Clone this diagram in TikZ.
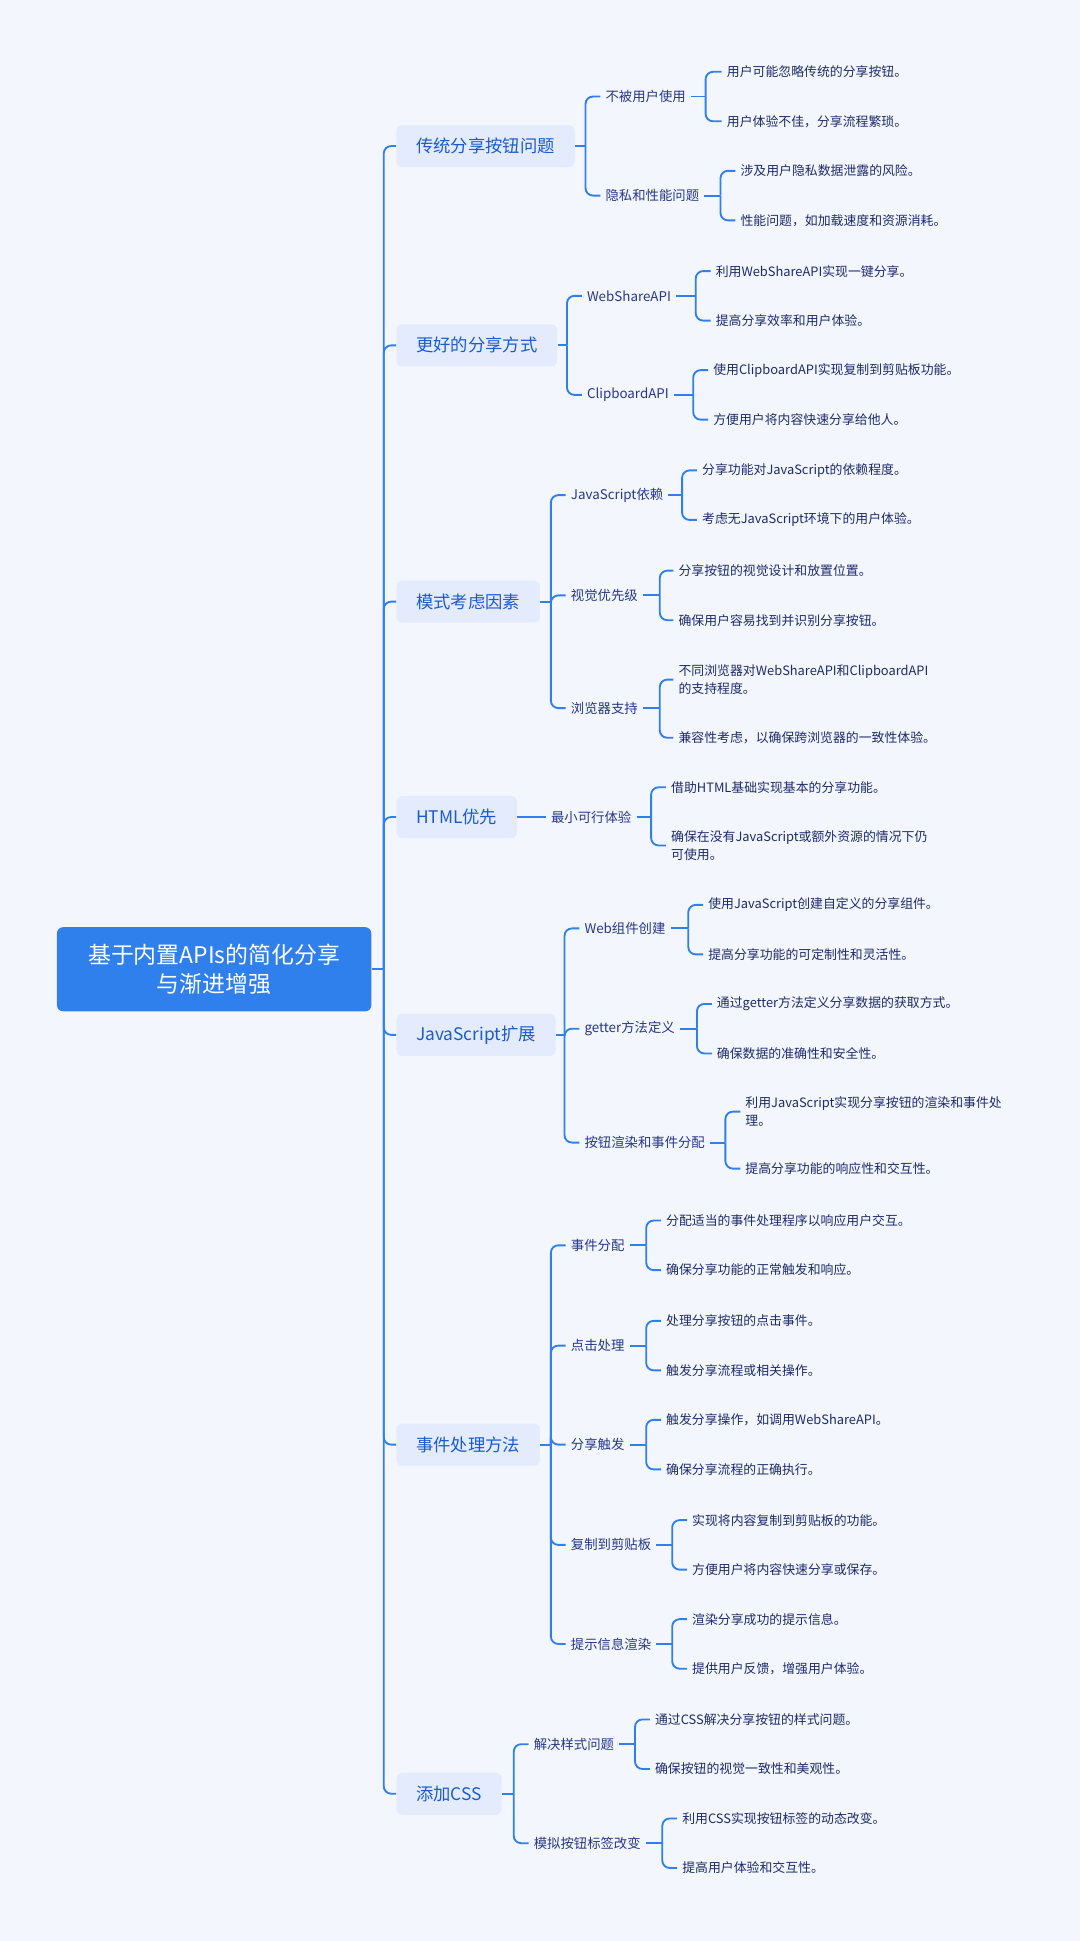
\documentclass[tikz,border=0pt]{standalone}
\usepackage{fontspec}
\setmainfont{Noto Sans CJK SC}
\definecolor{bgcol}{HTML}{F4F6FD}
\definecolor{linecol}{HTML}{2F80ED}
\definecolor{rootcol}{HTML}{2F80ED}
\definecolor{topiccol}{HTML}{E3EBFC}
\definecolor{topictext}{HTML}{1A5CCF}
\definecolor{subtext}{HTML}{25388A}
\definecolor{leaftext}{HTML}{1C2C6A}
\tikzset{
  rootbox/.style={fill=rootcol, text=white, rounded corners=5pt, minimum width=254pt,
    minimum height=68pt, align=center, font=\fontsize{18.5}{24}\selectfont},
  topicbox/.style={fill=topiccol, text=topictext, rounded corners=5pt, anchor=west,
    inner xsep=16pt, minimum height=34pt, font=\fontsize{14}{16}\selectfont},
  subtopic/.style={text=subtext, anchor=west, inner xsep=4pt, font=\fontsize{10.8}{14}\selectfont},
  leaf/.style={text=leaftext, anchor=west, inner xsep=4pt, align=left, font=\fontsize{10.4}{14.5}\selectfont},
  link/.style={draw=linecol, line width=1.5pt, rounded corners=6pt}
}
\begin{document}
\begin{tikzpicture}[x=1pt, y=-1pt]
	% Background
	\fill[bgcol] (0,0) rectangle (872.3,1568);
	\useasboundingbox (0,0) rectangle (872.3,1568);

	% Root and main topics
	\node[rootbox] (r) at (173,783) {基于内置APIs的简化分享\\与渐进增强};

	\node[topicbox] (t1) at (320,118) {传统分享按钮问题};
	\node[topicbox] (t2) at (320,279) {更好的分享方式};
	\node[topicbox] (t3) at (320,486) {模式考虑因素};
	\node[topicbox] (t4) at (320,660) {HTML优先};
	\node[topicbox] (t5) at (320,836) {JavaScript扩展};
	\node[topicbox] (t6) at (320,1167) {事件处理方法};
	\node[topicbox] (t7) at (320,1449) {添加CSS};

	% Draw the spine
	\coordinate (sp) at (310,783);
	\draw[link] (r.east) -- (sp);
	\draw[link] (sp) |- (t1.west);
	\draw[link] (sp) |- (t2.west);
	\draw[link] (sp) |- (t3.west);
	\draw[link] (sp) |- (t4.west);
	\draw[link] (sp) |- (t5.west);
	\draw[link] (sp) |- (t6.west);
	\draw[link] (sp) |- (t7.west);

	% Branch 1
	\node[subtopic] (t1a) at (485,78) {不被用户使用};
	\node[subtopic] (t1b) at (485,158) {隐私和性能问题};
	\coordinate (b1) at (473,118);
	\draw[link] (t1.east) -- (b1);
	\draw[link] (b1) |- (t1a.west);
	\draw[link] (b1) |- (t1b.west);

	\node[leaf] (t1a1) at (583,58) {用户可能忽略传统的分享按钮。};
	\node[leaf] (t1a2) at (583,98) {用户体验不佳，分享流程繁琐。};
	\coordinate (b1a) at (570,78);
	\draw[link] (t1a.east) -- (b1a);
	\draw[link] (b1a) |- (t1a1.west);
	\draw[link] (b1a) |- (t1a2.west);

	\node[leaf] (t1b1) at (594,138) {涉及用户隐私数据泄露的风险。};
	\node[leaf] (t1b2) at (594,178) {性能问题，如加载速度和资源消耗。};
	\coordinate (b1b) at (582,158);
	\draw[link] (t1b.east) -- (b1b);
	\draw[link] (b1b) |- (t1b1.west);
	\draw[link] (b1b) |- (t1b2.west);

	% Branch 2
	\node[subtopic] (t2a) at (470,239) {WebShareAPI};
	\node[subtopic] (t2b) at (470,319) {ClipboardAPI};
	\coordinate (b2) at (458,279);
	\draw[link] (t2.east) -- (b2);
	\draw[link] (b2) |- (t2a.west);
	\draw[link] (b2) |- (t2b.west);

	\node[leaf] (t2a1) at (574,219) {利用WebShareAPI实现一键分享。};
	\node[leaf] (t2a2) at (574,259) {提高分享效率和用户体验。};
	\coordinate (b2a) at (562,239);
	\draw[link] (t2a.east) -- (b2a);
	\draw[link] (b2a) |- (t2a1.west);
	\draw[link] (b2a) |- (t2a2.west);

	\node[leaf] (t2b1) at (572,299) {使用ClipboardAPI实现复制到剪贴板功能。};
	\node[leaf] (t2b2) at (572,339) {方便用户将内容快速分享给他人。};
	\coordinate (b2b) at (560,319);
	\draw[link] (t2b.east) -- (b2b);
	\draw[link] (b2b) |- (t2b1.west);
	\draw[link] (b2b) |- (t2b2.west);

	% Branch 3
	\node[subtopic] (t3a) at (457,400) {JavaScript依赖};
	\node[subtopic] (t3b) at (457,481) {视觉优先级};
	\node[subtopic] (t3c) at (457,572) {浏览器支持};
	\coordinate (b3) at (445,486);
	\draw[link] (t3.east) -- (b3);
	\draw[link] (b3) |- (t3a.west);
	\draw[link] (b3) |- (t3b.west);
	\draw[link] (b3) |- (t3c.west);

	\node[leaf] (t3a1) at (563,380) {分享功能对JavaScript的依赖程度。};
	\node[leaf] (t3a2) at (563,420) {考虑无JavaScript环境下的用户体验。};
	\coordinate (b3a) at (551,400);
	\draw[link] (t3a.east) -- (b3a);
	\draw[link] (b3a) |- (t3a1.west);
	\draw[link] (b3a) |- (t3a2.west);

	\node[leaf] (t3b1) at (544,461) {分享按钮的视觉设计和放置位置。};
	\node[leaf] (t3b2) at (544,501) {确保用户容易找到并识别分享按钮。};
	\coordinate (b3b) at (533,481);
	\draw[link] (t3b.east) -- (b3b);
	\draw[link] (b3b) |- (t3b1.west);
	\draw[link] (b3b) |- (t3b2.west);

	\node[leaf] (t3c1) at (544,549) {不同浏览器对WebShareAPI和ClipboardAPI\\的支持程度。};
	\node[leaf] (t3c2) at (544,596) {兼容性考虑，以确保跨浏览器的一致性体验。};
	\coordinate (b3c) at (533,572);
	\draw[link] (t3c.east) -- (b3c);
	\draw[link] (b3c) |- (t3c1.west);
	\draw[link] (b3c) |- (t3c2.west);

	% Branch 4
	\node[subtopic] (t4a) at (441,660) {最小可行体验};
	\draw[link] (t4.east) -- (t4a.west);

	\node[leaf] (t4a1) at (538,636) {借助HTML基础实现基本的分享功能。};
	\node[leaf] (t4a2) at (538,683) {确保在没有JavaScript或额外资源的情况下仍\\可使用。};
	\coordinate (b4a) at (526,660);
	\draw[link] (t4a.east) -- (b4a);
	\draw[link] (b4a) |- (t4a1.west);
	\draw[link] (b4a) |- (t4a2.west);

	% Branch 5
	\node[subtopic] (t5a) at (468,750) {Web组件创建};
	\node[subtopic] (t5b) at (468,831) {getter方法定义};
	\node[subtopic] (t5c) at (468,923) {按钮渲染和事件分配};
	\coordinate (b5) at (456,836);
	\draw[link] (t5.east) -- (b5);
	\draw[link] (b5) |- (t5a.west);
	\draw[link] (b5) |- (t5b.west);
	\draw[link] (b5) |- (t5c.west);

	\node[leaf] (t5a1) at (568,731) {使用JavaScript创建自定义的分享组件。};
	\node[leaf] (t5a2) at (568,771) {提高分享功能的可定制性和灵活性。};
	\coordinate (b5a) at (556,750);
	\draw[link] (t5a.east) -- (b5a);
	\draw[link] (b5a) |- (t5a1.west);
	\draw[link] (b5a) |- (t5a2.west);

	\node[leaf] (t5b1) at (575,811) {通过getter方法定义分享数据的获取方式。};
	\node[leaf] (t5b2) at (575,851) {确保数据的准确性和安全性。};
	\coordinate (b5b) at (563,831);
	\draw[link] (t5b.east) -- (b5b);
	\draw[link] (b5b) |- (t5b1.west);
	\draw[link] (b5b) |- (t5b2.west);

	\node[leaf] (t5c1) at (598,898) {利用JavaScript实现分享按钮的渲染和事件处\\理。};
	\node[leaf] (t5c2) at (598,944) {提高分享功能的响应性和交互性。};
	\coordinate (b5c) at (586,923);
	\draw[link] (t5c.east) -- (b5c);
	\draw[link] (b5c) |- (t5c1.west);
	\draw[link] (b5c) |- (t5c2.west);

	% Branch 6
	\node[subtopic] (t6a) at (457,1006) {事件分配};
	\node[subtopic] (t6b) at (457,1087) {点击处理};
	\node[subtopic] (t6c) at (457,1167) {分享触发};
	\node[subtopic] (t6d) at (457,1248) {复制到剪贴板};
	\node[subtopic] (t6e) at (457,1328) {提示信息渲染};
	\coordinate (b6) at (445,1167);
	\draw[link] (t6.east) -- (b6);
	\draw[link] (b6) |- (t6a.west);
	\draw[link] (b6) |- (t6b.west);
	\draw[link] (b6) |- (t6c.west);
	\draw[link] (b6) |- (t6d.west);
	\draw[link] (b6) |- (t6e.west);

	\node[leaf] (t6a1) at (534,986) {分配适当的事件处理程序以响应用户交互。};
	\node[leaf] (t6a2) at (534,1026) {确保分享功能的正常触发和响应。};
	\coordinate (b6a) at (522,1006);
	\draw[link] (t6a.east) -- (b6a);
	\draw[link] (b6a) |- (t6a1.west);
	\draw[link] (b6a) |- (t6a2.west);

	\node[leaf] (t6b1) at (534,1067) {处理分享按钮的点击事件。};
	\node[leaf] (t6b2) at (534,1107) {触发分享流程或相关操作。};
	\coordinate (b6b) at (522,1087);
	\draw[link] (t6b.east) -- (b6b);
	\draw[link] (b6b) |- (t6b1.west);
	\draw[link] (b6b) |- (t6b2.west);

	\node[leaf] (t6c1) at (534,1147) {触发分享操作，如调用WebShareAPI。};
	\node[leaf] (t6c2) at (534,1187) {确保分享流程的正确执行。};
	\coordinate (b6c) at (522,1167);
	\draw[link] (t6c.east) -- (b6c);
	\draw[link] (b6c) |- (t6c1.west);
	\draw[link] (b6c) |- (t6c2.west);

	\node[leaf] (t6d1) at (555,1228) {实现将内容复制到剪贴板的功能。};
	\node[leaf] (t6d2) at (555,1268) {方便用户将内容快速分享或保存。};
	\coordinate (b6d) at (543,1248);
	\draw[link] (t6d.east) -- (b6d);
	\draw[link] (b6d) |- (t6d1.west);
	\draw[link] (b6d) |- (t6d2.west);

	\node[leaf] (t6e1) at (555,1308) {渲染分享成功的提示信息。};
	\node[leaf] (t6e2) at (555,1348) {提供用户反馈，增强用户体验。};
	\coordinate (b6e) at (543,1328);
	\draw[link] (t6e.east) -- (b6e);
	\draw[link] (b6e) |- (t6e1.west);
	\draw[link] (b6e) |- (t6e2.west);

	% Branch 7
	\node[subtopic] (t7a) at (427,1409) {解决样式问题};
	\node[subtopic] (t7b) at (427,1489) {模拟按钮标签改变};
	\coordinate (b7) at (415,1449);
	\draw[link] (t7.east) -- (b7);
	\draw[link] (b7) |- (t7a.west);
	\draw[link] (b7) |- (t7b.west);

	\node[leaf] (t7a1) at (525,1389) {通过CSS解决分享按钮的样式问题。};
	\node[leaf] (t7a2) at (525,1429) {确保按钮的视觉一致性和美观性。};
	\coordinate (b7a) at (513,1409);
	\draw[link] (t7a.east) -- (b7a);
	\draw[link] (b7a) |- (t7a1.west);
	\draw[link] (b7a) |- (t7a2.west);

	\node[leaf] (t7b1) at (547,1469) {利用CSS实现按钮标签的动态改变。};
	\node[leaf] (t7b2) at (547,1509) {提高用户体验和交互性。};
	\coordinate (b7b) at (535,1489);
	\draw[link] (t7b.east) -- (b7b);
	\draw[link] (b7b) |- (t7b1.west);
	\draw[link] (b7b) |- (t7b2.west);

\end{tikzpicture}
\end{document}
